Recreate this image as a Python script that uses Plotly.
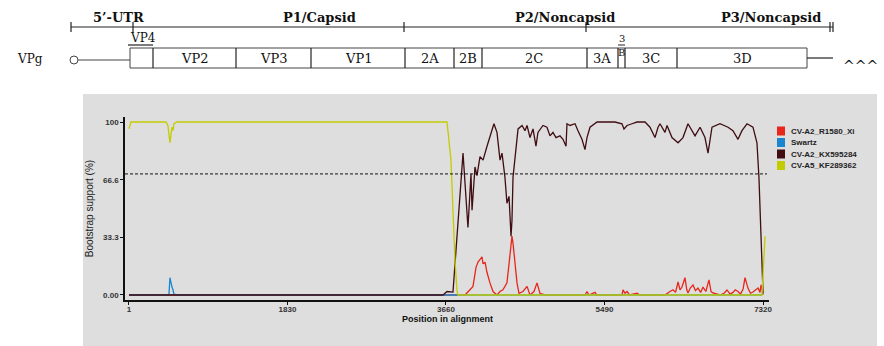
import plotly.graph_objects as go

# ---------------- data ----------------
series_names = ["CV-A2_R1580_Xi", "Swartz", "CV-A2_KX595284", "CV-A5_KF289362"]
series_colors = ["#e8261c", "#1a86d0", "#3f0d12", "#c3cc00"]

red_x = [1, 3880, 3937, 3972, 4007, 4030, 4076, 4088, 4111, 4134, 4168, 4203, 4249, 4284, 4318,
         4364, 4388, 4422, 4434, 4457, 4480, 4503, 4549, 4596, 4630, 4676, 4711, 4745, 4803,
         5265, 5288, 5311, 5380, 5400, 5692, 5704, 5727, 5750, 5780, 5865, 5900, 6188, 6212,
         6246, 6281, 6310, 6339, 6362, 6385, 6419, 6440, 6454, 6480, 6512, 6540, 6569, 6600,
         6627, 6660, 6696, 6720, 6742, 6823, 6870, 6904, 6940, 6973, 7000, 7031, 7060, 7090,
         7112, 7146, 7175, 7204, 7230, 7262, 7285, 7297, 7320]
red_y = [0, 0, 3, 5, 16, 19, 22, 18, 19, 13, 7, 2, 0, 2, 3,
         7, 18, 34, 30, 16, 7, 1, 2, 5, 0, 2, 7, 1, 0,
         0, 2, 0, 1.5, 0, 0, 3, 1, 2, 0, 1, 0, 0, 1,
         2, 3, 1.5, 7.5, 3, 4.6, 10, 3, 1.2, 4, 5.8, 2.5, 4, 1.5,
         4.6, 2, 8.7, 2, 1.2, 0, 1, 2.9, 0.5, 1.5, 3, 2, 0.5, 3.5,
         10, 4, 1, 1.7, 3, 4, 1.5, 5.8, 0]

blue_x = [1, 428, 462, 474, 486, 497, 509, 520, 555, 7300, 7320]
blue_y = [0, 0, 0, 10, 6, 4.6, 3, 0.5, 0, 0, 1]

dark_x = [1, 3626, 3672, 3741, 3857, 3914, 3949, 3961, 3995, 4018, 4053, 4088, 4134, 4168,
          4214, 4249, 4284, 4307, 4341, 4364, 4388, 4411, 4422, 4434, 4469, 4492, 4538, 4572,
          4596, 4630, 4665, 4699, 4722, 4768, 4780, 4826, 4861, 4895, 4930, 4976, 5011, 5046,
          5057, 5092, 5150, 5184, 5230, 5265, 5288, 5323, 5404, 5611, 5692, 5715, 5750, 5808,
          5865, 5958, 6015, 6073, 6108, 6131, 6188, 6212, 6269, 6339, 6396, 6454, 6535, 6593,
          6650, 6685, 6731, 6823, 6916, 6973, 7031, 7077, 7135, 7204, 7250, 7273, 7285, 7297,
          7308, 7320]
dark_y = [0, 0, 2, 1.7, 82, 39, 70, 49, 74, 69, 80, 78, 86, 91,
          99, 94, 78, 82, 68, 53, 57, 34, 43, 68, 84, 96, 98, 95,
          98, 91, 96, 86, 94, 97, 98, 97, 92, 94, 91, 92, 90, 86,
          99, 98, 99, 95, 90, 84, 91, 97, 100, 100, 99, 96, 98, 99,
          100, 100, 97, 91, 97, 99, 94, 98, 91, 88, 91, 99, 92, 97,
          91, 82, 97, 99, 97, 95, 90, 95, 99, 97, 88, 68, 49, 26,
          7, 1]

yellow_x = [1, 24, 428, 450, 474, 497, 509, 520, 555, 3672, 3718, 3741, 3764, 3787, 3799,
            7308, 7320, 7343]
yellow_y = [96, 100, 100, 98, 88, 97, 95, 99, 100, 100, 78, 49, 20, 3, 0,
            0, 15, 34]

x_ticks = [1, 1830, 3660, 5490, 7320]
y_ticks = [0, 33.3, 66.6, 100]
y_tick_labels = ["0.00", "33.3", "66.6", "100"]
threshold = 70
x_title = "Position in alignment"
y_title = "Bootstrap support (%)"

region_labels = ["5’-UTR", "P1/Capsid", "P2/Noncapsid", "P3/Noncapsid"]
gene_labels = ["VP2", "VP3", "VP1", "2A", "2B", "2C", "3A", "3C", "3D"]

# ---------------- layout helpers (pixel -> paper) ----------------
L, R, T, B = 125, 769, 117, 300
def px(x):
    return (x - L) / (R - L)
def py(y):
    return (B - y) / (B - T)

fig = go.Figure()
xs = [red_x, blue_x, dark_x, yellow_x]
ys = [red_y, blue_y, dark_y, yellow_y]
for name, col, xx, yy in zip(series_names, series_colors, xs, ys):
    fig.add_trace(go.Scatter(x=xx, y=yy, mode="lines", name=name,
                             line=dict(color=col, width=1.3), showlegend=False))

shapes = []
annotations = []
# gray panel
shapes.append(dict(type="rect", xref="paper", yref="paper", x0=px(83), x1=px(877),
                   y0=py(94), y1=py(346), fillcolor="#dedede", line=dict(width=0), layer="below"))
# threshold dashed line
shapes.append(dict(type="line", xref="paper", yref="y", x0=0, x1=px(767), y0=threshold, y1=threshold,
                   line=dict(color="#111111", width=1, dash="3px,2px")))

# x-axis title
annotations.append(dict(xref="paper", yref="paper", x=0.5, y=py(318.5), text=x_title, showarrow=False,
                        xanchor="center", yanchor="middle",
                        font=dict(family="Liberation Sans", size=9, color="#111111", weight="bold")))

# legend
leg_y = [131, 142.5, 154, 165.5]
for name, col, yc in zip(series_names, series_colors, leg_y):
    shapes.append(dict(type="rect", xref="paper", yref="paper", x0=px(777), x1=px(785),
                       y0=py(yc - 4.5), y1=py(yc + 4.5), fillcolor=col, line=dict(width=0)))
    annotations.append(dict(xref="paper", yref="paper", x=px(789), y=py(yc), text=name,
                            showarrow=False, xanchor="left", yanchor="middle",
                            font=dict(family="Liberation Sans", size=8, color="#222222", weight="bold")))

# ---------------- genome map ----------------
lc = "#222222"
# top bracket line
shapes.append(dict(type="line", xref="paper", yref="paper", x0=px(71), x1=px(833), y0=py(27), y1=py(27),
                   line=dict(color=lc, width=1.2)))
for tx in [71, 133, 404, 586, 830, 833]:
    shapes.append(dict(type="line", xref="paper", yref="paper", x0=px(tx), x1=px(tx), y0=py(22), y1=py(32),
                       line=dict(color=lc, width=1.2)))
for lab, cx in zip(region_labels, [118, 319, 565, 771]):
    annotations.append(dict(xref="paper", yref="paper", x=px(cx), y=py(17), text=lab, showarrow=False,
                            xanchor="center", yanchor="middle",
                            font=dict(family="DejaVu Serif", size=13, color="#111111", weight="bold")))
# genome box
shapes.append(dict(type="rect", xref="paper", yref="paper", x0=px(130), x1=px(807), y0=py(48), y1=py(68),
                   line=dict(color="#444444", width=1), fillcolor="white"))
for dx in [153, 236, 311, 405, 454, 482, 587, 618, 625, 677]:
    shapes.append(dict(type="line", xref="paper", yref="paper", x0=px(dx), x1=px(dx), y0=py(48), y1=py(68),
                       line=dict(color=lc, width=1.2)))
for lab, cx in zip(gene_labels, [194, 273, 358, 430, 468, 534, 602, 651, 742]):
    annotations.append(dict(xref="paper", yref="paper", x=px(cx), y=py(58), text=lab, showarrow=False,
                            xanchor="center", yanchor="middle",
                            font=dict(family="DejaVu Serif", size=13, color="#111111")))
# VP4 label with bracket
annotations.append(dict(xref="paper", yref="paper", x=px(143), y=py(38), text="VP4", showarrow=False,
                        xanchor="center", yanchor="middle",
                        font=dict(family="DejaVu Serif", size=12, color="#111111")))
shapes.append(dict(type="line", xref="paper", yref="paper", x0=px(128), x1=px(153), y0=py(45), y1=py(45),
                   line=dict(color=lc, width=1.2)))
# 3B label
annotations.append(dict(xref="paper", yref="paper", x=px(621.5), y=py(38), text="3", showarrow=False,
                        xanchor="center", yanchor="middle",
                        font=dict(family="DejaVu Serif", size=10, color="#111111")))
shapes.append(dict(type="line", xref="paper", yref="paper", x0=px(618), x1=px(625), y0=py(45), y1=py(45),
                   line=dict(color=lc, width=1)))
annotations.append(dict(xref="paper", yref="paper", x=px(621.5), y=py(52), text="B", showarrow=False,
                        xanchor="center", yanchor="middle",
                        font=dict(family="DejaVu Serif", size=10, color="#111111")))
# VPg
annotations.append(dict(xref="paper", yref="paper", x=px(30), y=py(59), text="VPg", showarrow=False,
                        xanchor="center", yanchor="middle",
                        font=dict(family="DejaVu Serif", size=12, color="#111111")))
shapes.append(dict(type="circle", xref="paper", yref="paper", x0=px(70), x1=px(78), y0=py(56), y1=py(64),
                   line=dict(color="#444444", width=1), fillcolor="white"))
shapes.append(dict(type="line", xref="paper", yref="paper", x0=px(78), x1=px(130), y0=py(60), y1=py(60),
                   line=dict(color="#444444", width=1)))
# 3' tail
shapes.append(dict(type="line", xref="paper", yref="paper", x0=px(807), x1=px(833), y0=py(58), y1=py(58),
                   line=dict(color=lc, width=1.2)))
annotations.append(dict(xref="paper", yref="paper", x=px(860), y=py(66), text="^^^", showarrow=False,
                        xanchor="center", yanchor="middle",
                        font=dict(family="DejaVu Serif", size=14, color="#111111")))

fig.update_layout(
    width=884, height=346,
    margin=dict(l=L, r=884 - R, t=T, b=346 - B, autoexpand=False),
    paper_bgcolor="white", plot_bgcolor="#dedede",
    shapes=shapes, annotations=annotations,
    xaxis=dict(range=[-45, 7389], tickvals=x_ticks, ticktext=[str(v) for v in x_ticks],
               automargin=False, ticklabelstandoff=-2,
               showgrid=False, zeroline=False, showline=True, linecolor="#111111", linewidth=1.5,
               ticks="outside", ticklen=3, tickcolor="#111111",
               tickfont=dict(family="Liberation Sans", size=8, color="#333333", weight="bold")),
    yaxis=dict(range=[-2.9, 102.9], tickvals=y_ticks, ticktext=y_tick_labels,
               automargin=False,
               showgrid=False, zeroline=False, showline=True, linecolor="#111111", linewidth=1.5,
               ticks="outside", ticklen=3, tickcolor="#111111",
               tickfont=dict(family="Liberation Sans", size=8, color="#333333", weight="bold"),
               title=dict(text=y_title, standoff=8,
                          font=dict(family="Liberation Sans", size=10, color="#222222"))),
)

fig.write_html("out.html", config={"displayModeBar": False},
               post_script="document.body.style.margin='0px';")
